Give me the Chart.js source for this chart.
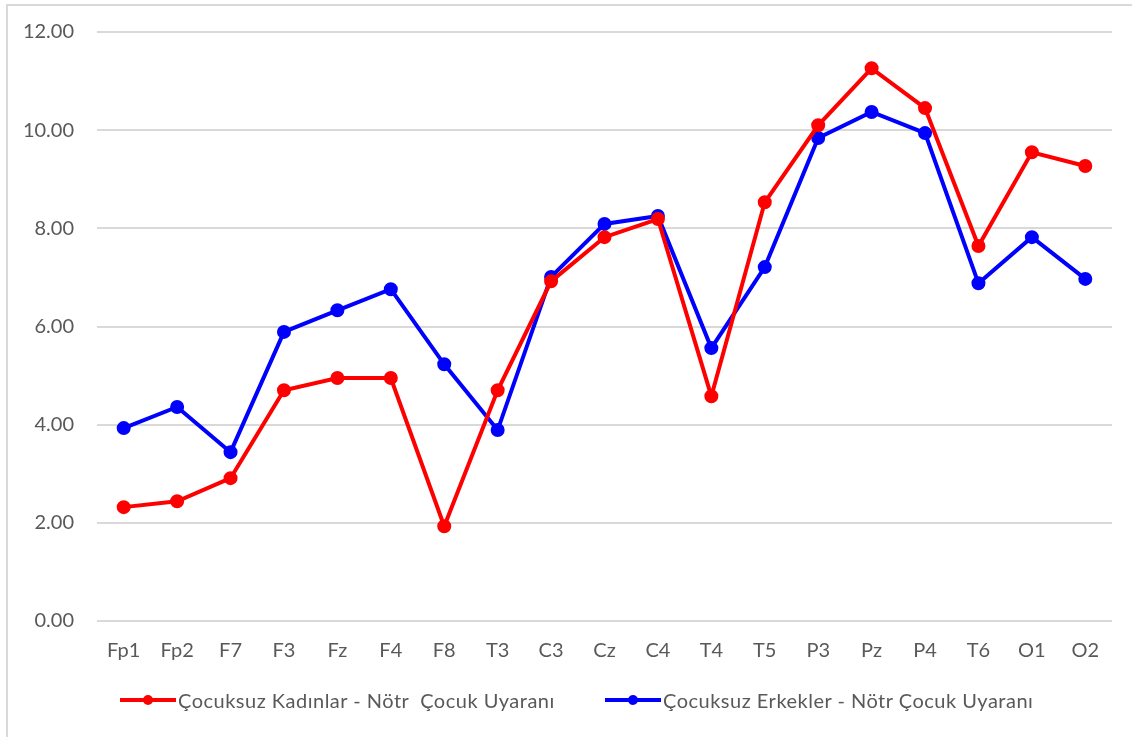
<!DOCTYPE html>
<html>
<head>
<meta charset="utf-8">
<script src="https://cdn.jsdelivr.net/npm/chart.js@4"></script>
<style>
  body { margin: 0; background: #fff; }
  #wrap { position: relative; width: 1132px; height: 737px; overflow: hidden; }
  #frame { position: absolute; left: 6px; top: 4px; width: 1200px; height: 800px;
           border-left: 2px solid #d9d9d9; border-top: 2px solid #d9d9d9; }
  canvas { position: absolute; left: 0; top: 0; }
  #legend { position: absolute; top: 688px; left: 0; width: 1132px; font-family: Lato, sans-serif;
            font-size: 20px; letter-spacing: 0.5px; color: #595959; }
  .item { position: absolute; display: flex; align-items: center; white-space: pre; }
  .mark { position: relative; width: 56px; height: 4px; margin-right: 2px; }
  .mark i { position: absolute; left: 23px; top: -3px; width: 10px; height: 10px; border-radius: 50%; }
</style>
</head>
<body>
<div id="wrap">
  <div id="frame"></div>
  <canvas id="myChart" width="1132" height="737"></canvas>
  <div id="legend"></div>
</div>
<script>
const electrodes = ['Fp1','Fp2','F7','F3','Fz','F4','F8','T3','C3','Cz','C4','T4','T5','P3','Pz','P4','T6','O1','O2'];
const womenValues = [2.32, 2.44, 2.91, 4.70, 4.95, 4.95, 1.93, 4.70, 6.92, 7.82, 8.19, 4.58, 8.53, 10.10, 11.26, 10.45, 7.64, 9.55, 9.27];
const menValues = [3.93, 4.36, 3.44, 5.89, 6.33, 6.76, 5.23, 3.89, 7.01, 8.09, 8.25, 5.56, 7.21, 9.84, 10.37, 9.94, 6.88, 7.82, 6.97];
const seriesNames = ['Çocuksuz Kadınlar - Nötr  Çocuk Uyaranı', 'Çocuksuz Erkekler - Nötr Çocuk Uyaranı'];
const seriesColors = ['#ff0000', '#0000ff'];

const ctx = document.getElementById('myChart').getContext('2d');
const textColor = '#595959';
const font = { family: 'Lato, sans-serif', size: 20 };

function makeDataset(label, values, color) {
    return {
        label,
        data: values,
        borderColor: color,
        backgroundColor: color,
        borderWidth: 4,
        pointRadius: 5,
        pointHoverRadius: 5,
        tension: 0
    };
}

const myChart = new Chart(ctx, {
    type: 'line',
    data: {
        labels: electrodes,
        datasets: [
            makeDataset(seriesNames[0], womenValues, seriesColors[0]),
            makeDataset(seriesNames[1], menValues, seriesColors[1])
        ]
    },
    options: {
        responsive: false,
        animation: false,
        layout: { padding: { top: 32, right: 20, bottom: 66, left: 0 } },
        plugins: {
            legend: { display: false },
            tooltip: { enabled: false }
        },
        scales: {
            x: {
                offset: true,
                grid: { display: false, drawTicks: false },
                border: { display: false },
                ticks: { color: textColor, font, padding: 18, maxRotation: 0, autoSkip: false },
                afterFit: s => { s.height = 50; }
            },
            y: {
                min: 0,
                max: 12,
                grid: { color: '#d9d9d9', lineWidth: 2, drawTicks: false },
                border: { display: false },
                ticks: { stepSize: 2, color: textColor, font, padding: 23,
                         callback: v => v.toFixed(2) },
                afterFit: s => { s.width = 97; s.paddingTop = 0; s.paddingBottom = 0; }
            }
        }
    }
});

// legend below the chart, like the spreadsheet one
const legend = document.getElementById('legend');
const legendLeft = [120, 605];
seriesNames.forEach((name, i) => {
    const item = document.createElement('div');
    item.className = 'item';
    item.style.left = legendLeft[i] + 'px';
    item.innerHTML = `<span class="mark" style="background:${seriesColors[i]}"><i style="background:${seriesColors[i]}"></i></span>`;
    item.appendChild(document.createTextNode(name));
    legend.appendChild(item);
});
</script>
</body>
</html>
